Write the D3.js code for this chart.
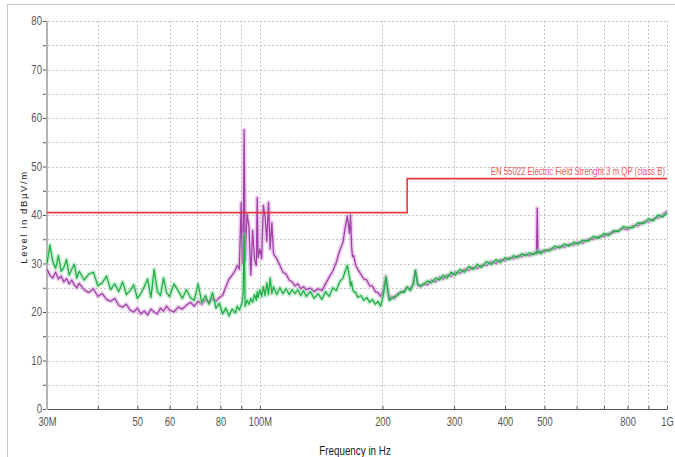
<!DOCTYPE html>
<html><head><meta charset="utf-8">
<script src="https://cdn.jsdelivr.net/npm/d3@7"></script>
<style>
body{margin:0;background:#fff;}
svg{display:block;}
.nar{font-family:"Liberation Sans",Arial,sans-serif;}
</style></head><body>
<svg id="c" width="675" height="457"></svg>
<script>
// ---- data (frequency in MHz, level in dBµV/m) ----
const freqs = [30,30.5,31,31.5,32,32.5,33,33.5,34,34.5,35,35.5,36,37,38,39,40,41,42,43,44,45,46,47,48,49,50,51,52,53,54,55,56,57,58,59,60,61.5,63,64.5,66,67.5,69,70.5,72,73.5,75,76.5,78,79.5,81,82.5,84,85.5,87,88,89,90,90.5,91,91.5,92,93,94,95,96,97,98,98.5,99,100,101,102,103,104,105,106,107,108,110,112,114,116,118,120,122,124,126,128,130,133,136,139,142,145,148,151,154,157,160,162,164,166,167,168,169,170,172,174,177,180,183,186,189,192,195,198,201,204,206,208,211,214,218,222,226,230,234,238,241,244,248,252,258,264,270,276,282,288,295,302,310,318,326,334,342,350,360,370,380,390,400,410,420,430,440,450,460,470,478,480,482,490,500,515,530,545,560,575,590,605,620,640,660,680,700,720,740,760,780,800,825,850,875,900,925,950,975,1000];
const purple = [28.8,27.6,27.0,28.2,26.8,27.4,26.2,26.9,25.8,26.6,25.6,25.0,25.9,24.6,24.0,24.8,23.2,23.8,22.6,22.2,22.8,21.4,21.0,21.6,20.4,20.0,20.8,19.6,20.2,19.4,20.6,20.0,19.6,20.8,20.2,21.2,20.4,20.0,21.0,20.6,21.4,22.0,21.2,22.2,21.6,22.6,22.0,22.8,22.2,23.0,23.4,25.2,26.8,27.6,28.6,29.6,28.8,42.6,30.0,34.0,57.6,30.6,40.2,37.6,27.6,36.8,30.8,29.6,43.6,31.2,33.0,31.0,42.0,39.6,34.6,42.6,33.0,38.4,32.0,31.0,29.6,28.2,27.8,26.6,26.2,25.4,25.8,24.8,25.2,24.6,24.9,24.2,24.8,24.4,25.8,27.2,28.4,30.2,32.6,34.4,37.4,39.8,36.2,40.0,33.4,31.4,31.6,29.6,28.8,27.8,26.8,26.6,25.4,25.4,24.2,24.0,23.2,24.6,27.4,24.4,22.8,23.2,22.8,23.8,24.0,24.4,25.0,24.8,25.6,28.4,25.6,25.2,25.8,25.6,26.6,26.2,27.2,26.8,27.6,27.4,28.2,28.0,28.8,28.6,29.2,29.0,29.6,29.6,30.4,30.0,30.8,30.6,31.2,31.0,31.6,31.4,32.0,31.6,32.2,32.0,41.4,32.2,32.6,32.4,33.0,33.0,33.6,33.4,34.0,33.8,34.4,34.2,35.0,35.0,35.6,35.6,36.2,36.4,36.8,37.2,37.0,37.8,37.8,38.6,38.6,39.2,39.4,40.0,40.8];
const green = [30.0,33.8,30.4,29.0,31.6,28.4,29.2,30.8,27.6,28.8,29.8,27.0,28.4,26.6,27.8,28.2,25.4,26.0,27.4,24.6,25.8,24.2,26.2,23.6,24.4,25.6,22.8,23.8,25.2,26.8,23.0,28.8,24.2,23.4,27.0,24.0,23.2,25.8,24.4,22.8,24.6,23.0,22.4,25.8,22.0,23.4,21.6,24.0,20.8,21.8,19.6,20.8,19.2,20.6,19.8,21.2,20.4,21.4,22.0,24.0,36.0,21.2,22.4,21.6,22.8,22.0,23.6,22.4,24.2,23.0,24.6,23.2,25.2,23.4,26.0,23.6,27.0,23.8,25.2,23.6,25.0,23.8,24.8,23.6,24.6,23.8,24.6,23.4,24.4,23.2,24.2,22.8,23.8,22.6,24.2,23.2,25.0,24.4,26.2,27.0,28.4,29.6,27.2,25.4,26.2,24.6,24.2,24.0,23.0,23.4,22.4,23.0,22.0,22.6,21.6,22.2,21.2,23.4,27.2,24.6,22.4,22.8,23.2,23.4,24.2,24.0,25.2,24.4,25.8,28.6,25.8,25.4,25.6,26.4,26.0,27.0,26.6,27.6,27.0,28.2,27.6,28.8,28.2,29.4,28.8,29.8,29.2,30.4,29.8,30.8,30.2,31.2,30.8,31.6,31.2,32.0,31.6,32.2,31.8,32.4,32.2,32.6,32.0,32.8,32.6,33.6,33.2,34.0,33.6,34.4,34.0,34.8,34.6,35.6,35.2,36.2,35.8,36.8,36.6,37.6,37.4,37.4,38.4,38.2,39.2,38.8,40.0,39.6,40.4];
const limitFreqs = [30,230,230,1000];
const limitVals = [40.5,40.5,47.5,47.5];
const limitLabel = "EN 55022 Electric Field Strenght 3 m QP (class B)";
const xTickVals = [30,50,60,80,100,200,300,400,500,800,1000];
const xTickLabels = ["30M","50","60","80","100M","200","300","400","500","800","1G"];
const xGridVals = [40,50,60,70,80,90,100,200,300,400,500,600,700,800,900,1000];
const yTickVals = [0,10,20,30,40,50,60,70,80];
const yMinorVals = [5,15,25,35,45,55,65,75];

const svg = d3.select("#c");
const x = d3.scaleLog().domain([30,1000]).range([47,667]);
const y = d3.scaleLinear().domain([0,80]).range([409,21]);

// outer frame
svg.append("line").attr("x1",7.5).attr("x2",7.5).attr("y1",4).attr("y2",457).attr("stroke","#c8c8c8").attr("stroke-width",1);
svg.append("line").attr("x1",7).attr("x2",675).attr("y1",4.5).attr("y2",4.5).attr("stroke","#c8c8c8").attr("stroke-width",1);

// grid
const grid = svg.append("g");
grid.selectAll(".gy").data(yTickVals.concat(yMinorVals).filter(v=>v>0)).join("line")
  .attr("x1",48).attr("x2",667).attr("y1",d=>Math.round(y(d))+0.5).attr("y2",d=>Math.round(y(d))+0.5)
  .attr("stroke","#c4c4c4").attr("stroke-dasharray","2,2");
grid.selectAll(".gx").data(xGridVals).join("line")
  .attr("x1",d=>Math.round(x(d))+0.5).attr("x2",d=>Math.round(x(d))+0.5).attr("y1",21).attr("y2",408)
  .attr("stroke","#c4c4c4").attr("stroke-dasharray","2,2");

// y axis
svg.append("line").attr("x1",47).attr("x2",47).attr("y1",21).attr("y2",409).attr("stroke","#b4b4b4").attr("stroke-width",2);
const yAx = svg.append("g").attr("transform","translate(46,0)")
  .call(d3.axisLeft(y).tickValues(yTickVals).tickSize(3).tickPadding(2).tickFormat(d3.format("d")));
yAx.select(".domain").remove();
yAx.selectAll("line").attr("stroke","#555");
yAx.selectAll("text").attr("class","nar").attr("font-size",12).attr("fill","#555").attr("transform","scale(0.8,1)");
const yMin = svg.append("g").attr("transform","translate(46,0)")
  .call(d3.axisLeft(y).tickValues(yMinorVals).tickSize(3).tickFormat(""));
yMin.select(".domain").remove();
yMin.selectAll("line").attr("stroke","#555");

// x axis
const xAx = svg.append("g").attr("transform","translate(0,409)")
  .call(d3.axisBottom(x).tickValues(xTickVals).tickSize(0).tickPadding(8).tickFormat((d,i)=>xTickLabels[i]));
xAx.select(".domain").attr("stroke","#555").attr("stroke-width",1.2);
xAx.selectAll("text").attr("class","nar").attr("font-size",12).attr("fill","#555").attr("transform","scale(0.78,1)");
const xMin = svg.append("g").attr("transform","translate(0,409)")
  .call(d3.axisTop(x).tickValues(xGridVals).tickSize(3).tickFormat(""));
xMin.select(".domain").remove();
xMin.selectAll("line").attr("stroke","#555");

// series
const line = (vals)=>d3.line().x((d,i)=>x(freqs[i])).y(d=>y(d))(vals);
function drawSeries(vals, light, dark){
  svg.append("path").attr("d",line(vals)).attr("fill","none").attr("stroke",light).attr("stroke-width",4.5).attr("stroke-opacity",0.5).attr("stroke-linejoin","round");
  svg.append("path").attr("d",line(vals)).attr("fill","none").attr("stroke",dark).attr("stroke-width",1.3).attr("stroke-linejoin","round");
}
drawSeries(purple,"#d8a0da","#a040a8");
drawSeries(green,"#95dea8","#1fae45");

// limit line
const lim = d3.line().x((d,i)=>x(limitFreqs[i])).y(d=>y(d));
svg.append("path").attr("d",lim(limitVals)).attr("fill","none").attr("stroke","#e8393c").attr("stroke-width",1.6);
svg.append("g").attr("transform",`translate(665,${y(47.5)-4}) scale(0.76,1)`)
  .append("text").attr("class","nar").attr("x",0).attr("y",0).attr("text-anchor","end")
  .attr("font-size",10.3).attr("fill","#f05a5a").text(limitLabel);

// axis titles
svg.append("g").attr("transform","translate(355,455) scale(0.82,1)")
  .append("text").attr("class","nar").attr("text-anchor","middle")
  .attr("font-size",12).attr("fill","#222").text("Frequency in Hz");
svg.append("text").attr("transform","translate(27,217) rotate(-90)").attr("text-anchor","middle")
  .attr("font-family","Liberation Sans, Arial, sans-serif").attr("font-size",9.5).attr("letter-spacing",1.6)
  .attr("fill","#222").text("Level in dBµV/m");
</script>
</body></html>
